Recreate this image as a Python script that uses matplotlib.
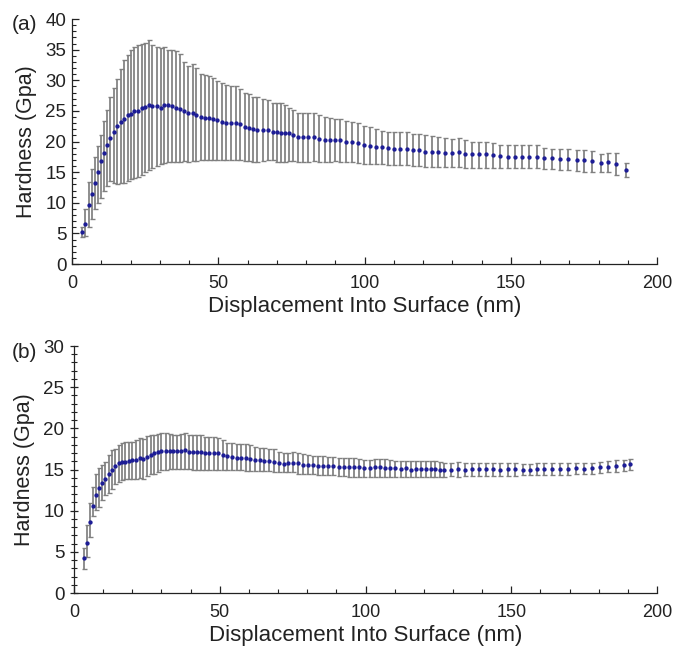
import matplotlib
matplotlib.use("Agg")
import matplotlib.pyplot as plt
import numpy as np
from matplotlib.ticker import MultipleLocator

plt.rcParams['font.family'] = ['Liberation Sans', 'DejaVu Sans']

# ---------------- Panel (a) data ----------------
x_a = [3.4, 4.55, 5.7, 6.8, 7.85, 8.9, 9.9, 10.9, 11.95, 13.1, 14.45, 15.5, 16.7, 17.9,
       19.0, 20.1, 21.3, 22.4, 23.9, 25.0, 26.4, 27.5, 28.9, 30.3, 31.5, 32.9, 34.1, 35.5,
       37.0, 38.3, 39.7, 41.2, 42.55, 44.0, 45.4, 46.9, 48.2,
       49.7, 51.2, 52.8, 54.3, 55.9, 57.5, 59.0, 60.4, 61.9, 63.4, 65.2, 67.0, 68.6, 70.2,
       71.6, 72.9, 74.1, 75.5, 77.3, 79.0, 80.7, 82.6, 84.4, 86.4, 88.1, 89.8, 91.7, 93.8,
       95.7, 97.8, 99.8, 102.0, 104.0, 106.0, 108.0,
       110.2, 112.3, 114.4, 116.5, 118.8, 120.8, 123.1, 125.2, 127.5, 129.8, 132.2, 134.3,
       136.7, 139.2, 141.5, 144.0, 146.4, 148.9, 151.4, 153.8, 156.3, 158.9, 161.4, 164.0,
       166.8, 169.6, 172.5, 175.1, 177.9, 180.8, 183.4, 186.1, 189.3]
mean_a = [5.3, 6.5, 9.7, 11.4, 13.3, 15.1, 16.8, 18.1, 19.4, 20.5, 21.6, 22.6, 23.2, 23.6,
          24.3, 24.5, 24.9, 24.9, 25.4, 25.7, 26.0, 25.8, 25.8, 25.5, 25.9, 25.9, 25.8, 25.4,
          25.25, 25.0, 24.6, 24.7, 24.3, 24.0, 23.9, 23.9, 23.6,
          23.46, 23.2, 22.97, 22.97, 22.97, 22.8, 22.4, 22.26, 22.0, 21.9, 21.93, 21.9, 21.6,
          21.55, 21.44, 21.44, 21.33, 21.06, 20.8, 20.73, 20.73, 20.73, 20.46, 20.24, 20.2,
          20.2, 20.2, 19.97, 19.97, 19.8, 19.43, 19.27, 19.1, 19.1, 19.0,
          18.83, 18.83, 18.72, 18.6, 18.55, 18.34, 18.28, 18.28, 18.17, 18.17, 18.28, 18.0,
          17.9, 17.9, 17.9, 17.8, 17.63, 17.52, 17.52, 17.47, 17.52, 17.52, 17.36, 17.25,
          17.2, 17.2, 16.98, 16.93, 16.8, 16.43, 16.6, 16.38, 15.35]
up_a = [6.0, 8.9, 13.4, 15.5, 17.4, 19.3, 21.0, 23.35, 25.1, 27.3, 28.8, 30.15, 31.8, 33.3,
        34.1, 34.9, 35.5, 35.7, 36.0, 36.1, 36.6, 35.8, 35.5, 35.2, 35.5, 35.0, 34.9, 34.7,
        34.3, 32.9, 32.4, 32.7, 32.0, 31.1, 30.9, 30.7, 30.4,
        29.9, 29.6, 29.3, 29.0, 29.0, 28.6, 28.0, 27.7, 27.3, 27.2, 26.95, 26.7, 26.3, 26.3,
        26.3, 25.9, 25.5, 25.1, 24.7, 24.7, 24.7, 24.6, 24.3, 24.05, 23.9, 23.7, 23.7, 23.35,
        23.24, 22.97, 22.6, 22.37, 22.0, 21.7, 21.6,
        21.55, 21.55, 21.55, 21.28, 21.17, 21.0, 20.9, 20.8, 20.52, 20.36, 20.5, 20.24,
        19.97, 19.9, 19.9, 19.7, 19.5, 19.35, 19.35, 19.35, 19.35, 19.35, 19.0, 18.8,
        18.7, 18.7, 18.6, 18.55, 18.4, 18.0, 18.07, 18.07, 16.43]
low_a = [4.4, 4.5, 6.0, 7.4, 8.9, 10.0, 10.8, 11.9, 12.7, 13.55, 13.3, 13.1, 13.2, 13.2,
         13.5, 13.8, 14.0, 14.2, 14.6, 15.0, 15.35, 15.7, 16.0, 16.3, 16.55, 16.7, 16.7, 16.7,
         16.7, 16.8, 16.7, 16.8, 16.8, 16.9, 16.9, 16.9, 16.9,
         17.0, 16.9, 16.9, 16.9, 16.9, 16.9, 16.8, 16.8, 16.7, 16.7, 16.85, 17.0, 16.9, 16.7,
         16.7, 16.7, 16.8, 16.8, 16.7, 16.7, 16.7, 16.8, 16.7, 16.7, 16.7, 16.8, 16.7, 16.7,
         16.7, 16.54, 16.4, 16.4, 16.27, 16.27, 16.2,
         16.16, 16.16, 16.1, 16.0, 16.0, 15.84, 15.84, 15.84, 15.84, 15.84, 15.9, 15.7,
         15.7, 15.7, 15.7, 15.7, 15.7, 15.6, 15.6, 15.6, 15.7, 15.6, 15.46, 15.46,
         15.35, 15.35, 15.18, 15.07, 15.07, 15.0, 15.0, 14.6, 14.26]

# ---------------- Panel (b) data ----------------
x_b = [3.4, 4.3, 5.5, 6.6, 7.5, 8.5, 9.6, 10.7, 11.9, 13.1, 14.2, 15.4, 16.5, 17.6, 18.9,
       20.0, 21.2, 22.5, 23.7, 25.0, 26.3, 27.6, 28.8, 30.0, 31.4, 32.8, 34.1, 35.4, 36.7,
       38.1, 39.4, 40.7, 42.1, 43.6, 45.0, 46.4, 48.1, 49.5, 51.0,
       52.6, 54.2, 55.8, 57.4, 59.0, 60.5, 62.1, 63.7, 65.3, 66.9, 68.6, 70.3, 72.0, 73.5,
       75.1, 76.8, 78.6, 80.3, 82.0, 83.6, 85.4, 87.1, 88.8, 90.8, 92.5, 94.2, 95.9, 97.6,
       99.5, 101.4, 103.3, 105.0, 106.7, 108.4, 110.1, 112.1, 113.9, 115.6, 117.3, 119.0,
       120.7, 122.4, 124.0, 125.5,
       127.0, 129.5, 131.7, 134.0, 136.6, 138.9, 141.4, 143.7, 146.3, 148.8, 151.3, 153.9,
       156.4, 158.8, 161.3, 163.9, 166.8, 169.3, 172.1, 175.0, 177.6, 180.3, 183.2, 186.1,
       188.6, 190.9]
mean_b = [4.2, 6.1, 8.6, 10.55, 11.9, 12.8, 13.4, 13.9, 14.4, 15.0, 15.4, 15.75, 15.95,
          15.95, 16.05, 16.2, 16.2, 16.45, 16.25, 16.55, 16.75, 16.95, 17.1, 17.2, 17.25,
          17.25, 17.25, 17.3, 17.3, 17.35, 17.15, 17.1, 17.1, 17.1, 17.05, 16.95, 16.95,
          16.95, 16.75,
          16.63, 16.55, 16.42, 16.42, 16.35, 16.27, 16.14, 16.14, 16.02, 16.02, 15.94, 15.74,
          15.66, 15.74, 15.82, 15.74, 15.53, 15.53, 15.53, 15.45, 15.45, 15.42, 15.42, 15.33,
          15.33, 15.25, 15.25, 15.25, 15.13, 15.13, 15.25, 15.25, 15.13, 15.21, 15.13, 15.05,
          15.13, 15.0, 15.05, 15.05, 15.05, 15.05, 15.05, 15.0,
          14.93, 15.0, 15.05, 15.0, 15.05, 15.05, 15.05, 15.05, 15.0, 15.05, 15.05, 15.0,
          15.0, 15.05, 15.05, 15.05, 15.05, 15.05, 15.13, 15.05, 15.2, 15.25, 15.33, 15.4,
          15.53, 15.66]
up_b = [5.5, 8.25, 10.95, 12.9, 14.5, 15.2, 15.6, 15.9, 16.75, 17.35, 17.55, 17.95, 18.2,
        18.3, 18.35, 18.35, 18.6, 18.8, 18.7, 19.1, 19.2, 19.25, 19.3, 19.4, 19.4, 19.3,
        19.25, 19.25, 19.3, 19.4, 19.25, 19.2, 19.25, 19.2, 19.0, 19.0, 19.0, 18.85, 18.6,
        18.17, 18.17, 18.1, 18.1, 18.05, 17.97, 17.76, 17.64, 17.56, 17.48, 17.44, 17.15,
        17.03, 16.95, 17.07, 16.95, 16.83, 16.75, 16.67, 16.67, 16.67, 16.55, 16.47, 16.35,
        16.35, 16.35, 16.35, 16.27, 16.14, 16.14, 16.27, 16.27, 16.22, 16.14, 16.06, 16.06,
        16.06, 16.06, 16.06, 16.06, 16.06, 16.06, 16.06, 15.94,
        15.8, 15.8, 15.9, 15.8, 15.8, 15.8, 15.8, 15.8, 15.8, 15.8, 15.8, 15.65,
        15.65, 15.73, 15.8, 15.73, 15.8, 15.8, 15.8, 15.73, 15.85, 15.9, 16.0, 16.14,
        16.14, 16.22]
low_b = [2.9, 4.4, 6.8, 9.3, 10.1, 10.5, 11.3, 11.9, 12.1, 12.6, 13.2, 13.5, 13.7, 13.8,
         13.8, 13.9, 13.9, 14.0, 13.8, 14.2, 14.4, 14.5, 14.7, 14.9, 15.0, 15.1, 15.1, 15.1,
         15.1, 15.1, 15.05, 15.0, 15.0, 15.0, 15.0, 15.0, 14.9, 15.0, 15.0,
         15.0, 14.94, 15.0, 14.94, 14.84, 14.84, 14.84, 14.84, 14.84, 14.8, 14.72, 14.72,
         14.64, 14.64, 14.64, 14.5, 14.44, 14.44, 14.44, 14.32, 14.32, 14.32, 14.32, 14.23,
         14.23, 14.1, 14.1, 14.1, 14.03, 14.03, 14.1, 14.1, 14.1, 14.1, 14.1, 14.03,
         14.03, 14.03, 14.03, 14.03, 14.03, 14.03, 14.03, 14.03,
         14.1, 14.2, 14.1, 14.2, 14.2, 14.2, 14.2, 14.2, 14.2, 14.2, 14.2, 14.3,
         14.3, 14.3, 14.3, 14.3, 14.3, 14.3, 14.4, 14.4, 14.5, 14.6, 14.67, 14.72,
         14.85, 15.0]

xticks = [0, 50, 100, 150, 200]
xlabel = "Displacement Into Surface (nm)"
ylabel = "Hardness (Gpa)"

W, H = 674, 655
fig = plt.figure(figsize=(W / 100, H / 100), dpi=100)

ax_a = fig.add_axes([72 / W, 1 - 264 / H, 585 / W, 245 / H])
ax_b = fig.add_axes([74 / W, 1 - 593 / H, 583 / W, 247 / H])

MARK = '#1c1c96'
BAR = '#808080'
CAP = '#404040'


def draw(ax, x, m, lo, up, ymax, ystep, yinout):
    x = np.array(x); m = np.array(m); lo = np.array(lo); up = np.array(up)
    line, caps, bars = ax.errorbar(x, m, yerr=[m - lo, up - m], fmt='o', ms=2.1,
                                   mfc=MARK, mec=MARK, ecolor=BAR, elinewidth=1.25,
                                   capsize=1.8, capthick=1.0, zorder=3)
    for c in caps:
        c.set_color(CAP)
    ax.set_xlim(0, 200)
    ax.set_ylim(0, ymax)
    ax.set_xticks(xticks)
    ax.xaxis.set_minor_locator(MultipleLocator(10))
    ax.set_yticks(np.arange(0, ymax + 1, ystep))
    ax.yaxis.set_minor_locator(MultipleLocator(1))
    for s in ['top', 'right']:
        ax.spines[s].set_visible(False)
    for s in ['left', 'bottom']:
        ax.spines[s].set_linewidth(0.9)
        ax.spines[s].set_color('#222222')
    ax.tick_params(axis='x', which='major', direction='in', length=5, width=0.9,
                   labelsize=13, pad=8, colors='#222222')
    ax.tick_params(axis='x', which='minor', direction='in', length=3, width=0.8,
                   colors='#222222')
    ydir = 'inout' if yinout else 'in'
    ax.tick_params(axis='y', which='major', direction=ydir, length=6 if yinout else 5,
                   width=0.9, labelsize=13.5, pad=4, colors='#222222')
    ax.tick_params(axis='y', which='minor', direction=ydir, length=4 if yinout else 3,
                   width=0.8, colors='#222222')
    ax.set_xlabel(xlabel, fontsize=16, color='#222222', labelpad=3)
    ax.set_ylabel(ylabel, fontsize=15.5, color='#222222', labelpad=6)


draw(ax_a, x_a, mean_a, low_a, up_a, 40, 5, False)
draw(ax_b, x_b, mean_b, low_b, up_b, 30, 5, True)

fig.text(12 / W, 1 - 25 / H, '(a)', fontsize=15, va='center', ha='left', color='#222222')
fig.text(12 / W, 1 - 353 / H, '(b)', fontsize=15, va='center', ha='left', color='#222222')

fig.savefig('out.png', dpi=100)
